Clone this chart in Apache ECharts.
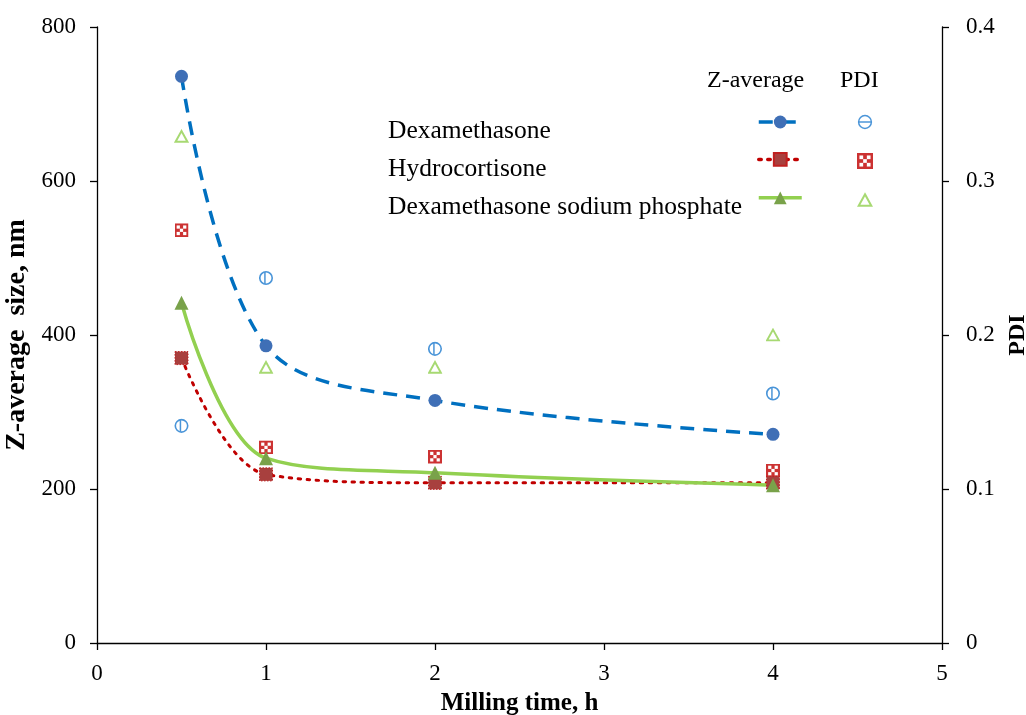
<!DOCTYPE html>
<html>
<head>
<meta charset="utf-8">
<script src="https://cdn.jsdelivr.net/npm/echarts@6/dist/echarts.min.js"></script>
<style>html,body{margin:0;padding:0;background:#fff;overflow:hidden}#c{width:1026px;height:715px}</style>
</head>
<body>
<div id="c"></div>
<script>
var seriesNames = ['Dexamethasone', 'Hydrocortisone', 'Dexamethasone sodium phosphate'];
var millingTime = [0.5, 1, 2, 4];
var dexZ = [736, 386, 315, 271];
var hydroZ = [370, 219, 208, 208];
var dspZ = [442, 240, 221, 205];
var dexPDI = [0.141, 0.237, 0.191, 0.162];
var hydroPDI = [0.268, 0.127, 0.121, 0.112];
var dspPDI = [0.329, 0.179, 0.179, 0.200];
var xTicks = [0, 1, 2, 3, 4, 5];
var leftTicks = [0, 200, 400, 600, 800];
var rightTicks = [0, 0.1, 0.2, 0.3, 0.4];

function pairs(xs, ys) { return xs.map(function (x, i) { return [x, ys[i]]; }); }
function svgUri(s) { return 'image://data:image/svg+xml;charset=utf-8,' + encodeURIComponent(s); }

var FONT = '"Liberation Serif", "Times New Roman", serif';
var blue = '#1E7BCF';
var red = '#C00000';
var green = '#92D050';

var pdiCircle = svgUri("<svg xmlns='http://www.w3.org/2000/svg' width='28' height='28' viewBox='0 0 14 14'><circle cx='7' cy='7' r='5.8' fill='white' stroke='" + blue + "' stroke-width='1.5'/><line x1='6' y1='1.4' x2='6' y2='12.6' stroke='" + blue + "' stroke-width='1.4'/></svg>");
var pdiCircleLegend = svgUri("<svg xmlns='http://www.w3.org/2000/svg' width='28' height='28' viewBox='0 0 14 14'><circle cx='7' cy='7' r='5.6' fill='white' stroke='" + blue + "' stroke-width='1.3'/><line x1='1.6' y1='7' x2='12.4' y2='7' stroke='" + blue + "' stroke-width='1.3'/></svg>");
var pdiBox = svgUri("<svg xmlns='http://www.w3.org/2000/svg' width='26' height='26' viewBox='0 0 13 13'><rect x='0' y='0' width='13' height='13' fill='" + red + "'/><rect x='2' y='2' width='3' height='3' fill='white'/><rect x='8' y='2' width='3' height='3' fill='white'/><rect x='5' y='5' width='3' height='3' fill='white'/><rect x='2' y='8' width='3' height='3' fill='white'/><rect x='8' y='8' width='3' height='3' fill='white'/></svg>");
var pdiTri = svgUri("<svg xmlns='http://www.w3.org/2000/svg' width='28' height='28' viewBox='0 0 14 14'><polygon points='7,2 12.5,12 1.5,12' fill='white' stroke='" + green + "' stroke-width='1.8' stroke-linejoin='miter'/></svg>");

var chart = echarts.init(document.getElementById('c'));
var axisLbl = { color: '#000', fontFamily: FONT, fontSize: 23 };
var axisLine = { show: true, lineStyle: { color: '#000', width: 1.3 } };

chart.setOption({
  animation: false,
  backgroundColor: '#fff',
  grid: { left: 97, right: 84, top: 27, bottom: 72, containLabel: false, outerBoundsMode: 'none' },
  xAxis: {
    type: 'value', min: xTicks[0], max: xTicks[xTicks.length - 1], interval: 1,
    name: 'Milling time, h', nameLocation: 'middle', nameGap: 48,
    nameTextStyle: { color: '#000', fontFamily: FONT, fontSize: 25, fontWeight: 'bold' },
    axisLine: axisLine, axisTick: { show: true, inside: false, length: 7, lineStyle: { color: '#000', width: 1.3 } },
    axisLabel: Object.assign({ margin: 19 }, axisLbl),
    splitLine: { show: false }
  },
  yAxis: [{
    type: 'value', min: leftTicks[0], max: leftTicks[leftTicks.length - 1], interval: 200, position: 'left',
    name: 'Z-average  size, nm', nameLocation: 'middle', nameGap: 54, nameRotate: 90,
    nameTextStyle: { color: '#000', fontFamily: FONT, fontSize: 28, fontWeight: 'bold' },
    axisLine: axisLine, axisTick: { show: true, length: 7, lineStyle: { color: '#000', width: 1.3 } },
    axisLabel: Object.assign({ margin: 21 }, axisLbl),
    splitLine: { show: false }
  }, {
    type: 'value', min: rightTicks[0], max: rightTicks[rightTicks.length - 1], interval: 0.1, position: 'right',
    name: 'PDI', nameLocation: 'middle', nameGap: 60, nameRotate: 90,
    nameTextStyle: { color: '#000', fontFamily: FONT, fontSize: 24, fontWeight: 'bold' },
    axisLine: axisLine, axisTick: { show: true, length: 7, lineStyle: { color: '#000', width: 1.3 } },
    axisLabel: Object.assign({ margin: 24 }, axisLbl),
    splitLine: { show: false }
  }],
  legend: [{
    orient: 'vertical', left: 752, top: 109, itemWidth: 43, itemHeight: 16, itemGap: 23,
    formatter: function () { return ''; }, selectedMode: false,
    lineStyle: { width: 3.5 },
    data: [seriesNames[0], seriesNames[1], seriesNames[2]]
  }, {
    orient: 'vertical', left: 852, top: 109, itemWidth: 16, itemHeight: 16, itemGap: 23,
    formatter: function () { return ''; }, selectedMode: false,
    data: [{ name: seriesNames[0] + ' PDI', icon: pdiCircleLegend }, seriesNames[1] + ' PDI', seriesNames[2] + ' PDI']
  }],
  graphic: [
    { type: 'text', left: 707, top: 69, style: { text: 'Z-average', font: '24px ' + FONT, fill: '#000' } },
    { type: 'text', left: 840, top: 69, style: { text: 'PDI', font: '24px ' + FONT, fill: '#000' } },
    { type: 'text', left: 388, top: 118, style: { text: seriesNames[0], font: '25.5px ' + FONT, fill: '#000' } },
    { type: 'text', left: 388, top: 156, style: { text: seriesNames[1], font: '25.5px ' + FONT, fill: '#000' } },
    { type: 'text', left: 388, top: 194, style: { text: seriesNames[2], font: '25.5px ' + FONT, fill: '#000' } }
  ],
  series: [{
    name: seriesNames[0], type: 'line', yAxisIndex: 0, smooth: 0.35,
    data: pairs(millingTime, dexZ),
    symbol: 'circle', symbolSize: 13,
    lineStyle: { color: '#0070C0', width: 3.5, type: [14, 9] },
    itemStyle: { color: '#3F6FB6', borderWidth: 0 }
  }, {
    name: seriesNames[1], type: 'line', yAxisIndex: 0, smooth: 0.35,
    data: pairs(millingTime, hydroZ),
    symbol: 'rect', symbolSize: 13,
    lineStyle: { color: red, width: 3, type: [2.5, 6.5], cap: 'round' },
    itemStyle: { color: '#A8403E', borderColor: '#C02020', borderWidth: 1, borderType: [1.5, 1.5] }
  }, {
    name: seriesNames[2], type: 'line', yAxisIndex: 0, smooth: 0.35,
    data: pairs(millingTime, dspZ),
    symbol: 'triangle', symbolSize: 14,
    lineStyle: { color: green, width: 3.5 },
    itemStyle: { color: '#79A24A', borderWidth: 0 }
  }, {
    name: seriesNames[0] + ' PDI', type: 'scatter', yAxisIndex: 1,
    data: pairs(millingTime, dexPDI), symbol: pdiCircle, symbolSize: 15
  }, {
    name: seriesNames[1] + ' PDI', type: 'scatter', yAxisIndex: 1,
    data: pairs(millingTime, hydroPDI), symbol: pdiBox, symbolSize: 14
  }, {
    name: seriesNames[2] + ' PDI', type: 'scatter', yAxisIndex: 1,
    data: pairs(millingTime, dspPDI), symbol: pdiTri, symbolSize: 15
  }]
});
</script>
</body>
</html>
